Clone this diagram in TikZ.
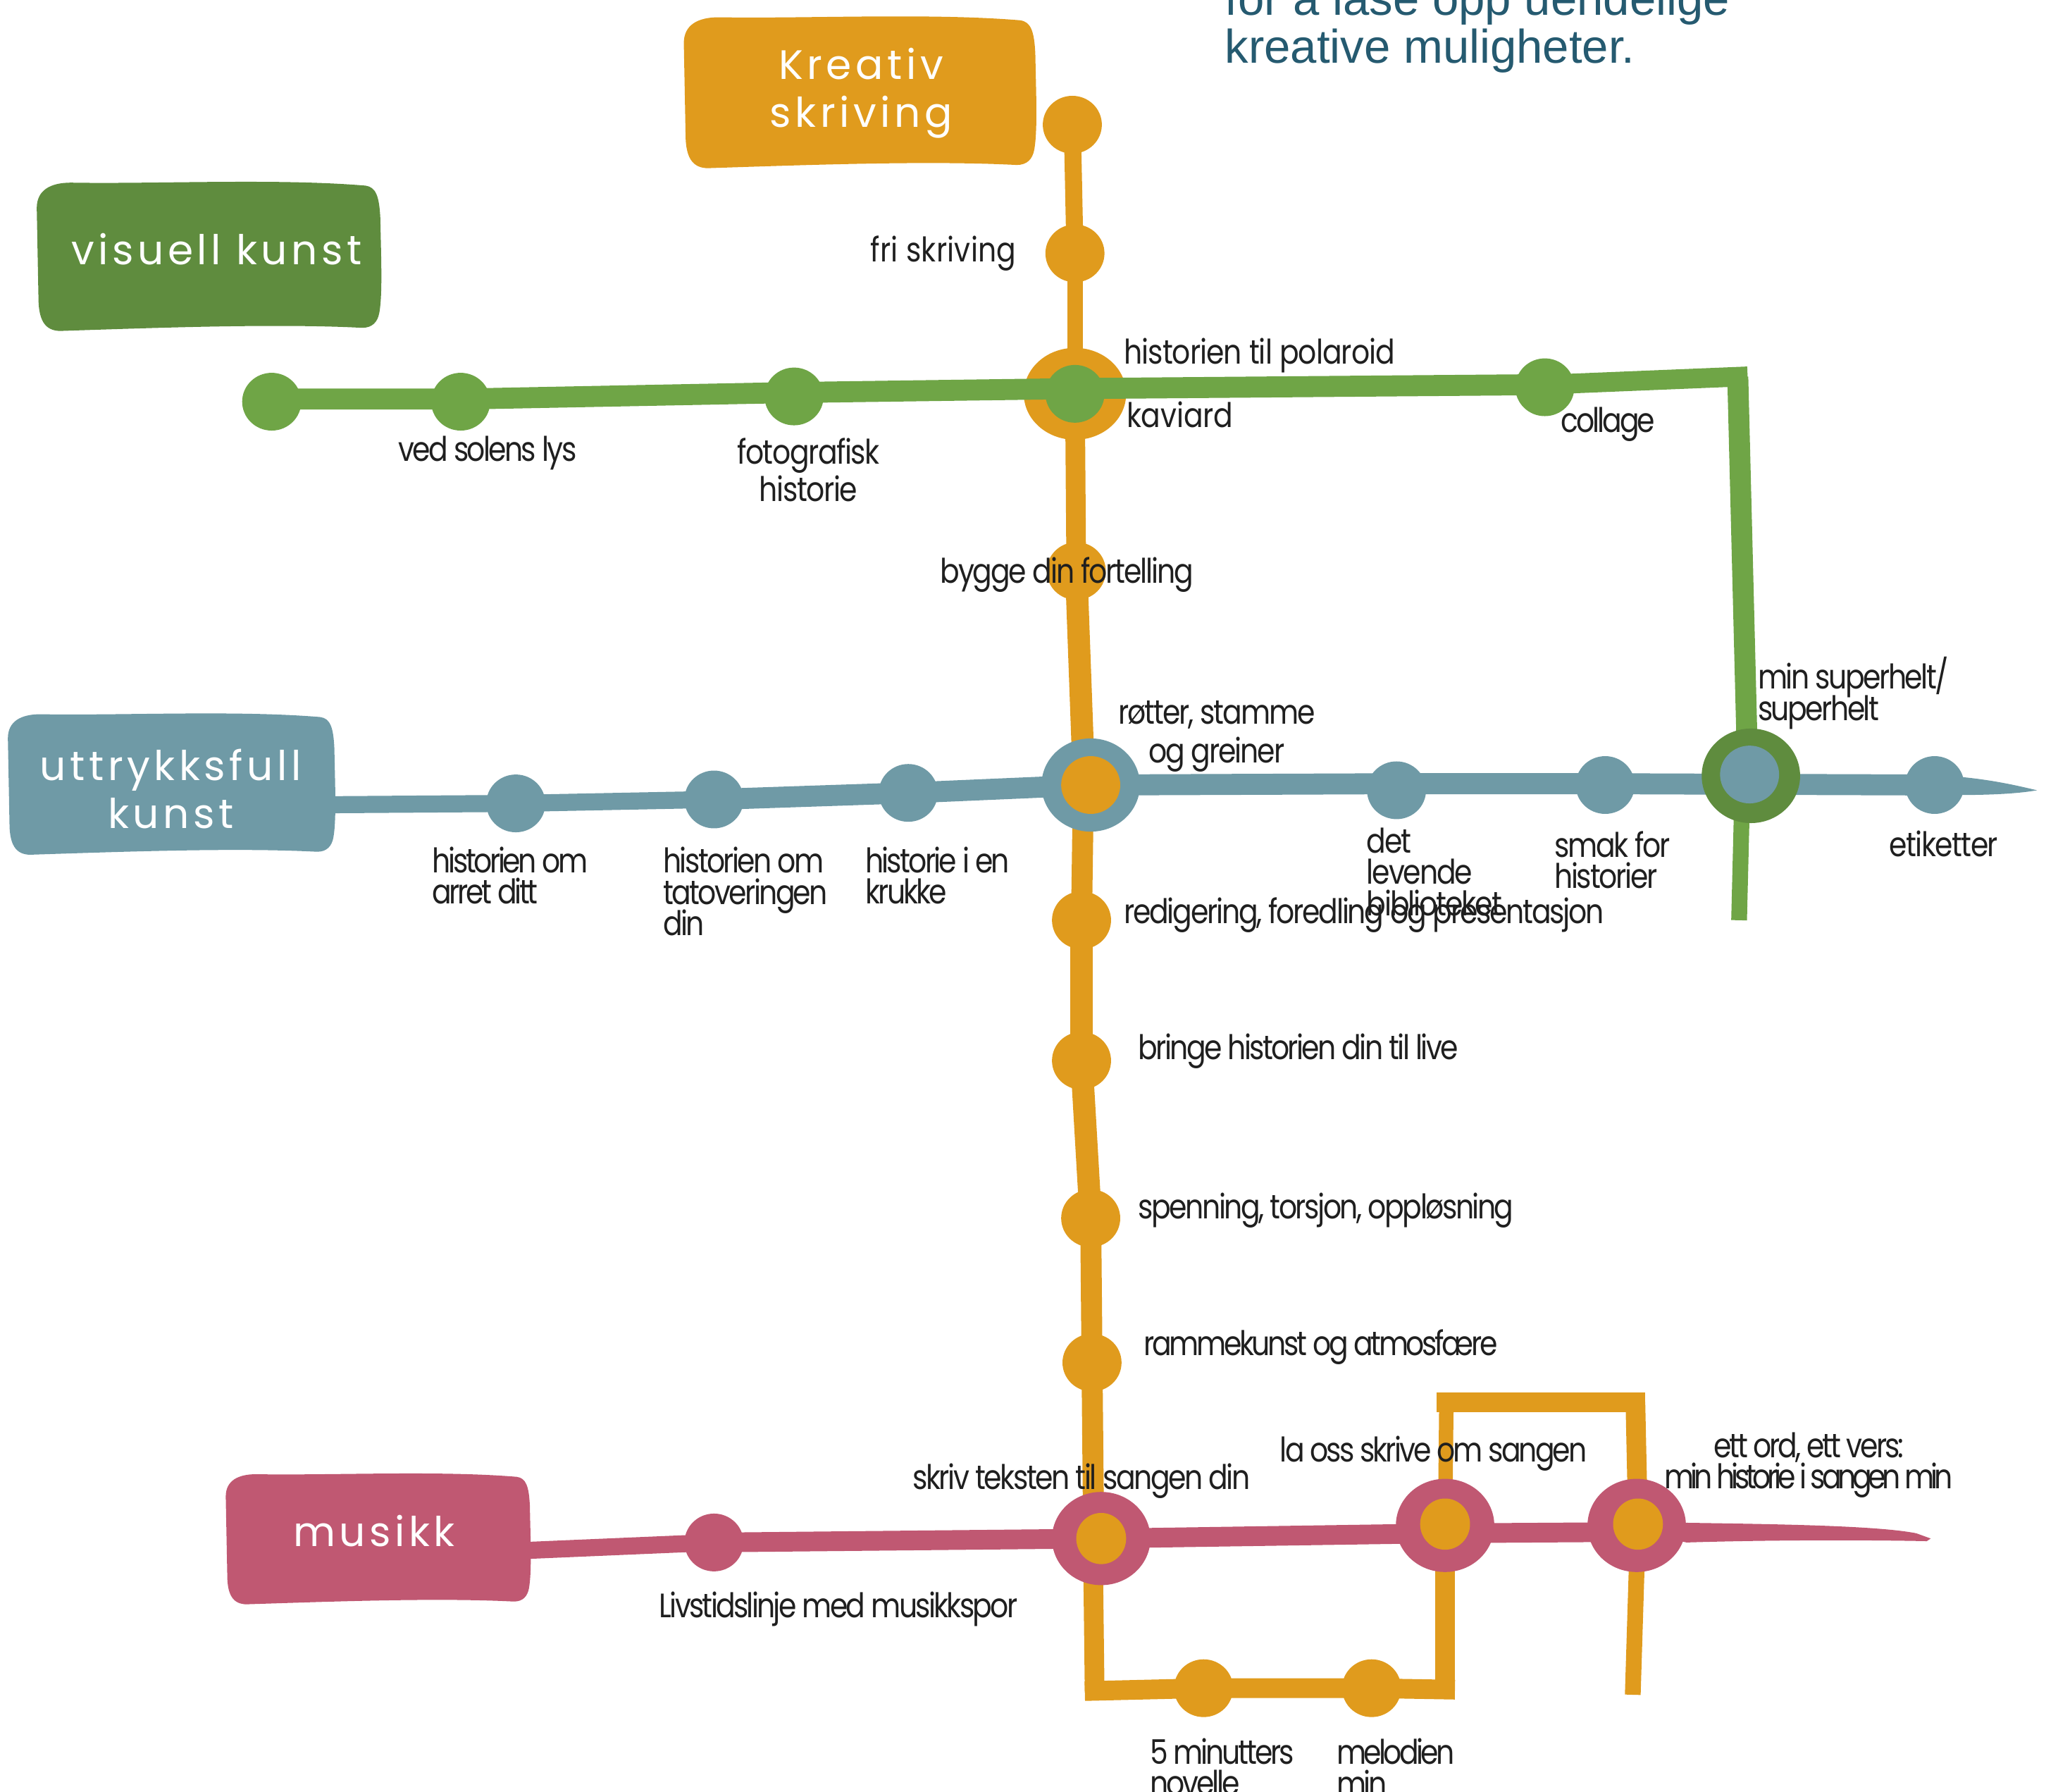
\documentclass[tikz,border=0pt]{standalone}
\usepackage{fontspec}
\usetikzlibrary{shapes.geometric}
\newfontfamily\labf[FakeStretch=0.85]{Poppins}
\newfontfamily\boxf[LetterSpace=9.5]{Poppins}
\newfontfamily\titf{Liberation Sans}
\definecolor{cOr}{HTML}{E09B1D}
\definecolor{cGr}{HTML}{6FA546}
\definecolor{cDg}{HTML}{5F8C3E}
\definecolor{cBl}{HTML}{6F9AA6}
\definecolor{cPk}{HTML}{C05872}
\definecolor{cTi}{HTML}{255A70}
\pgfdeclarelayer{la}\pgfdeclarelayer{lb}\pgfdeclarelayer{lc}
\pgfsetlayers{la,lb,lc,main}
\newcommand\lf[2][13.6]{\labf\addfontfeature{LetterSpace=#2}\fontsize{14.7}{#1}\selectfont\lineskiplimit=-100pt }
\tikzset{
  dotn/.style={ellipse,inner sep=0pt,minimum width=0.9cm,minimum height=0.88cm,fill=#1},
  ring/.style={ellipse,inner sep=0pt,minimum width=1.5cm,minimum height=1.42cm,fill=#1},
  inner/.style={ellipse,inner sep=0pt,minimum width=0.76cm,minimum height=0.78cm,fill=#1},
  lab/.style={font={\lf{#1}},inner sep=0pt,text=black!88,align=left,anchor=west},
  labc/.style={inner sep=0pt,text=black!88,align=center,anchor=center},
  boxt/.style={font=\boxf\fontsize{17.8}{21}\selectfont,text=white,align=center,inner sep=0pt},
  lnk/.style={line width=#1*0.02cm},
}
\newcommand\blob[5]{%
\begin{scope}[shift={(#2,#3)},xscale=#4/100,yscale=#5/100]
\fill[#1] (0,18) .. controls (0,6) and (4,1) .. (10,1) .. controls (35,2) and (70,-2) .. (96,3)
 .. controls (99,4) and (100,10) .. (100.3,25) .. controls (100.5,50) and (101,75) .. (100,88)
 .. controls (99.5,94) and (98,98) .. (95,98) .. controls (70,95) and (35,98) .. (8,100)
 .. controls (3,101) and (0.5,95) .. (0.5,78) -- cycle;
\end{scope}}
\begin{document}
\begin{tikzpicture}[x=0.02cm,y=-0.02cm]
\useasboundingbox (0,0) rectangle (1568,1365);
% label boxes
\blob{cOr}{521}{12}{267}{116}
\blob{cDg}{28}{138}{261}{114}
\blob{cBl}{6}{543}{248}{108}
\blob{cPk}{172}{1122}{231}{100}
\node[boxt] (tK) at (656,71) {Kreativ\\skriving};
\node[boxt] (tV) at (165,190) {visuell kunst};
\node[boxt] (tU) at (130,601) {uttrykksfull\\kunst};
\node[boxt] (tM) at (285,1166) {musikk};
\coordinate (bU) at (254,613);
\coordinate (bM) at (403,1181);
% hubs and stations
\begin{pgfonlayer}{lb}
\node[ring=cOr,minimum width=1.56cm,minimum height=1.4cm] (hG) at (819,300) {};
\end{pgfonlayer}
\node[ring=cBl] (hB) at (831,598) {};
\node[ring=cDg,minimum height=1.44cm] (hS) at (1334,591) {};
\node[ring=cPk] (hP) at (839,1172) {};
\node[ring=cPk] (hL) at (1101,1162) {};
\node[ring=cPk] (hE) at (1247,1162) {};
\node[dotn=cGr] (iG) at (819,300) {};
\node[dotn=cOr] (iB) at (831,598) {};
\node[dotn=cBl] (iS) at (1333,590) {};
\node[inner=cOr] (iP) at (839,1172) {};
\node[inner=cOr] (iL) at (1101,1161) {};
\node[inner=cOr] (iE) at (1248,1161) {};
\foreach \n/\p in {k0/{817,95},k1/{819,193},k3/{820,435},k5/{824,701},k6/{824,808},k7/{831,928},k8/{832,1038},k9/{917,1286},k10/{1045,1286}}
  \node[dotn=cOr] (\n) at (\p) {};
\foreach \n/\p in {v0/{207,306},v1/{351,306},v2/{605,302},v3/{1177,295}}
  \node[dotn=cGr] (\n) at (\p) {};
\foreach \n/\p in {b1/{393,612},b2/{544,609},b3/{692,604},b5/{1064,602},b6/{1223,598},b8/{1474,598}}
  \node[dotn=cBl] (\n) at (\p) {};
\node[dotn=cPk] (p1) at (544,1175) {};
\coordinate (cBL) at (834,1288);
\coordinate (cBR) at (1101,1287);
\coordinate (cTL) at (1102,1068);
\coordinate (cTR) at (1246,1068);
\coordinate (eE) at (1244,1291);
\coordinate (gC) at (1324,287);
\coordinate (gE) at (1325,701);
\coordinate (gU) at (1331,565);
\coordinate (gD) at (1327,620);
\coordinate (oU) at (825,572);
\coordinate (oD) at (825,630);
\coordinate (oP) at (833,1145);
\coordinate (oQ) at (833,1205);
\coordinate (gA) at (821,296);
\coordinate (bR) at (1064,597);
\coordinate (bS) at (1223,597);
\coordinate (bE) at (1474,598);
\coordinate (bT) at (1552,602);
\coordinate (pA) at (1101,1168);
\coordinate (pB) at (1247,1167);
\coordinate (pT) at (1471,1172);
% orange line
\begin{pgfonlayer}{la}
\draw[cOr,lnk=13] (k0.center) -- (k1.center);
\draw[cOr,lnk=12] (k1.center) -- (hG.center);
\draw[cOr,lnk=15] (hG.center) -- (k3.center);
\draw[cOr,lnk=17] (k3.center) -- (oU);
\draw[cOr,lnk=16] (oD) -- (k5.center);
\draw[cOr,lnk=17] (k5.center) -- (k6.center);
\draw[cOr,lnk=17] (k6.center) -- (k7.center);
\draw[cOr,lnk=16] (k7.center) -- (k8.center);
\draw[cOr,lnk=16] (k8.center) -- (oP);
\draw[cOr,lnk=15] (oQ) -- (cBL);
\draw[cOr,lnk=15,line cap=rect] (cBL) -- (k9.center) -- (k10.center) -- (cBR);
\draw[cOr,lnk=15] (cBR) -- (iL.center);
\draw[cOr,lnk=11] (iL.center) -- (cTL);
\draw[cOr,lnk=15,line cap=rect] (cTL) -- (cTR);
\draw[cOr,lnk=15] (cTR) -- (iE.center);
\draw[cOr,lnk=12] (iE.center) -- (eE);
\end{pgfonlayer}
% green, blue, pink lines
\begin{pgfonlayer}{lc}
\draw[cGr,lnk=16] ([yshift=0.04cm]v0.center) -- ([yshift=0.04cm]v1.center) -- ([yshift=0.06cm]v2.center) -- (gA) -- ([yshift=0.04cm]v3.center);
\draw[cGr,lnk=15,line cap=rect] ([yshift=0.04cm]v3.center) -- (gC);
\draw[cGr,lnk=16] (gC) -- (gU);
\draw[cGr,lnk=12] (gD) -- (gE);
\draw[cBl,lnk=13] (bU) -- (b1.center) -- (b2.center);
\draw[cBl,lnk=16] (b2.center) -- (b3.center) -- (iB.center);
\draw[cBl,lnk=16] (iB.center) -- (bR) -- (bS) -- (bE);
\fill[cBl] ([yshift=0.15cm]b8.center) .. controls (1510,592) and (1535,598) .. (bT) .. controls (1535,605) and (1510,606) .. ([yshift=-0.15cm]b8.center) -- cycle;
\draw[cPk,lnk=13] (bM) -- (p1.center);
\draw[cPk,lnk=15] (p1.center) -- (iP.center) -- (pA) -- (pB);
\fill[cPk] (pB) -- (1285,1160) .. controls (1350,1161) and (1430,1162) .. (1460,1168) -- (pT) -- (1468,1174) .. controls (1420,1173) and (1350,1173) .. (1285,1175) -- cycle;
\end{pgfonlayer}
% labels
\node[lab=0.5] (l1) at (663,193) {fri skriving};
\node[lab=-2] (l2) at (856,271) {historien til polaroid};
\node[lab=-0.3] (l3) at (858,316) {kaviard};
\node[lab=-5.5] (l4) at (303,345) {ved solens lys};
\node[labc,font={\lf[16.4]{-3}}] (l5) at (616,358) {fotografisk\\historie};
\node[lab=-6.3] (l6) at (1189,323) {collage};
\node[lab=-4.5] (l7) at (716,438) {bygge din fortelling};
\node[labc,font={\lf[17]{-4.4}}] (l8) at (927,561) {røtter, stamme\\og greiner};
\node[lab=-5.2] (l9) at (1339,528) {min superhelt/\\superhelt};
\node[lab=-7] (l10) at (329,667) {historien om\\arret ditt};
\node[lab=-5.5] (l11) at (505,679) {historien om\\tatoveringen\\din};
\node[lab=-5.8] (l12) at (659,667) {historie i en\\krukke};
\node[lab=-4.4] (l13) at (1041,664) {det\\levende\\biblioteket};
\node[lab=-4.8] (l14) at (1184,655) {smak for\\historier};
\node[lab=-3.2] (l15) at (1439,643) {etiketter};
\node[lab=-4.6] (l16) at (856,697) {redigering, foredling og presentasjon};
\node[lab=-5.6] (l17) at (867,801) {bringe historien din til live};
\node[lab=-5.2] (l18) at (867,922) {spenning, torsjon, oppløsning};
\node[lab=-6.9] (l19) at (871,1026) {rammekunst og atmosfære};
\node[lab=-5.2] (l20) at (695,1128) {skriv teksten til sangen din};
\node[lab=-6.2] (l21) at (975,1107) {la oss skrive om sangen};
\node[labc,font={\lf{-6.5}}] (l22) at (1378,1116) {ett ord, ett vers:\\\addfontfeature{LetterSpace=-11}min historie i sangen min};
\node[lab=-5.7] (l23) at (502,1226) {Livstidslinje med musikkspor};
\node[lab=-6.6] (l24) at (876,1346) {5 minutters\\novelle};
\node[lab=-7.6] (l25) at (1018,1346) {melodien\\min};
% title
\node[font=\titf\fontsize{20.5}{20.8}\selectfont,text=cTi,align=left,inner sep=0pt,anchor=south west] (ttl) at (933,56) {for å låse opp uendelige\\kreative muligheter.};
\end{tikzpicture}
\end{document}
